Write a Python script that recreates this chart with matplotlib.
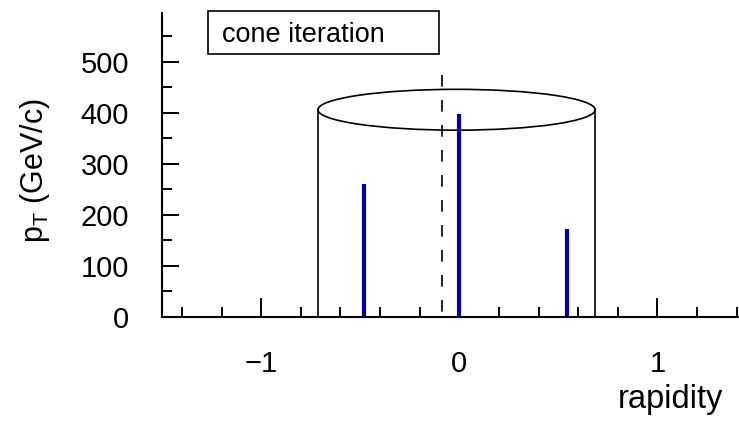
import matplotlib.pyplot as plt
from matplotlib.patches import Ellipse, Rectangle
from matplotlib.ticker import MultipleLocator

plt.rcParams['font.family'] = ['Liberation Sans', 'DejaVu Sans']
plt.rcParams['mathtext.fontset'] = 'custom'
plt.rcParams['mathtext.rm'] = 'Liberation Sans'
plt.rcParams['mathtext.it'] = 'Liberation Sans:italic'

# particles: rapidity and transverse momentum
jet_rapidity = [-0.48, 0.0, 0.545]
jet_pt = [260, 397, 172]

# cone drawn around the current axis, dashed line = previous seed axis
cone_center = -0.014
cone_radius = 0.7
cone_top = 406
cone_depth = 80
seed_axis = -0.087

fig = plt.figure(figsize=(7.39, 4.21), dpi=100)
ax = fig.add_axes([0.2195, 0.247, 0.804, 0.7215])

ax.vlines(jet_rapidity, 0, jet_pt, colors='#0000a8', linewidth=3)

# cylinder outline
for xs in (cone_center - cone_radius, cone_center + cone_radius):
    ax.plot([xs, xs], [0, cone_top], color='black', lw=1.2)
ax.add_patch(Ellipse((cone_center, cone_top), 2 * cone_radius, cone_depth,
                     fill=False, edgecolor='black', lw=1.2))
ax.plot([seed_axis, seed_axis], [474, 0], color='black', lw=1.2,
        linestyle=(0, (7, 8)))

ax.set_xlim(-1.5, 1.5)
ax.set_ylim(0, 595)
ax.spines['top'].set_visible(False)
ax.spines['right'].set_visible(False)
for s in ('left', 'bottom'):
    ax.spines[s].set_linewidth(1.5)

ax.xaxis.set_major_locator(MultipleLocator(1))
ax.xaxis.set_minor_locator(MultipleLocator(0.2))
ax.yaxis.set_major_locator(MultipleLocator(100))
ax.yaxis.set_minor_locator(MultipleLocator(50))
ax.set_yticks([0, 100, 200, 300, 400, 500])
ax.tick_params(axis='x', which='major', direction='in', length=14, width=1.4,
               pad=24, labelsize=21)
ax.tick_params(axis='x', which='minor', direction='in', length=7, width=1.4)
ax.tick_params(axis='y', which='major', direction='in', length=12, width=1.4,
               pad=24, labelsize=21)
ax.tick_params(axis='y', which='minor', direction='in', length=7, width=1.4)

fig.text(0.047, 0.596, r'p$_{\mathrm{T}}$ (GeV/c)', rotation=90,
         ha='center', va='center', fontsize=22)
fig.text(0.979, 0.031, 'rapidity', ha='right', va='baseline', fontsize=23.5)

# label box
fig.patches.append(Rectangle((0.281, 0.872), 0.313, 0.102,
                             transform=fig.transFigure, fill=False,
                             edgecolor='black', lw=1.2))
fig.text(0.300, 0.900, 'cone iteration', ha='left', va='baseline', fontsize=19.5)

plt.savefig('out.png', dpi=100)
